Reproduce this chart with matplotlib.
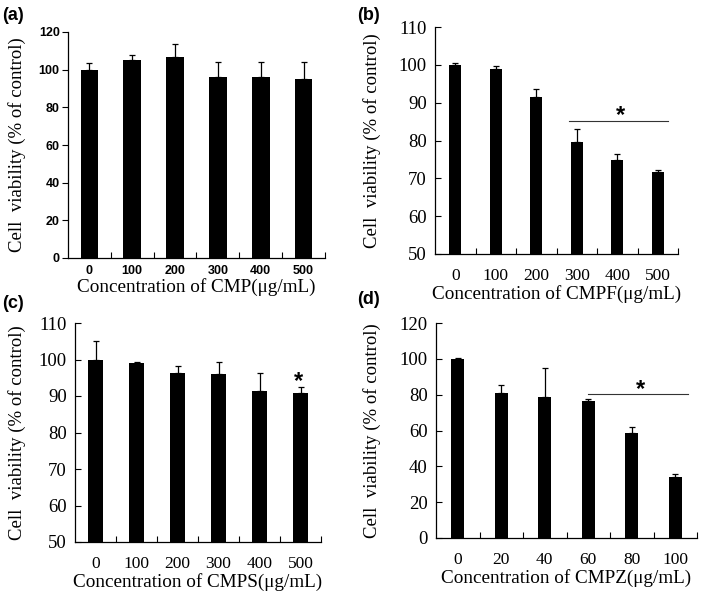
import matplotlib.pyplot as plt
import numpy as np

# panel (a) CMP
cmp_conc = ['0', '100', '200', '300', '400', '500']
cmp_val = [100, 105, 106.5, 96, 96.3, 95.2]
cmp_err = [3.5, 3, 7, 8, 8, 9]

# panel (b) CMPF
cmpf_conc = ['0', '100', '200', '300', '400', '500']
cmpf_val = [100, 99, 91.4, 79.6, 74.8, 71.6]
cmpf_err = [0.4, 0.8, 2.3, 3.5, 1.6, 0.6]

# panel (c) CMPS
cmps_conc = ['0', '100', '200', '300', '400', '500']
cmps_val = [100, 99, 96.2, 96, 91.5, 90.8]
cmps_err = [5, 0.2, 2, 3.3, 4.8, 1.8]

# panel (d) CMPZ
cmpz_conc = ['0', '20', '40', '60', '80', '100']
cmpz_val = [100, 81, 78.5, 76.6, 58.8, 34.2]
cmpz_err = [0.2, 4.3, 16.6, 1.2, 3.3, 1.4]

ylab = 'Cell  viability (% of control)'
serif = 'Liberation Serif'
sans = 'Liberation Sans'

W, H = 709, 594
fig = plt.figure(figsize=(W / 100, H / 100), dpi=100)


def box(l, r, t, b):
    return [l / W, 1 - b / H, (r - l) / W, (b - t) / H]


def panel(rect, conc, val, err, ylim, yticks, width, font, xsize, ysize, weight,
          ydir, xname, lpad, ylx):
    ax = fig.add_axes(rect)
    x = np.arange(len(conc))
    ax.bar(x, val, width=width, color='black', zorder=2)
    ax.errorbar(x, val, yerr=[np.zeros(len(err)), err], fmt='none',
                ecolor='black', elinewidth=0.9, capsize=2.5, capthick=0.9)
    ax.set_xlim(-0.5, 5.5)
    ax.set_ylim(*ylim)
    ax.set_yticks(yticks)
    ax.set_xticks(x)
    ax.set_xticklabels(conc, fontfamily=font, fontsize=xsize, fontweight=weight)
    ax.set_yticklabels([str(t) for t in yticks], fontfamily=font,
                       fontsize=ysize, fontweight=weight)
    ax.set_xticks(x + 0.5, minor=True)
    ax.tick_params(axis='x', which='major', length=0, pad=lpad)
    ax.tick_params(axis='x', which='minor', direction='in', length=4, width=0.8)
    ax.tick_params(axis='y', direction=ydir, length=4, width=0.8,
                   pad=2 if ydir == 'out' else 6)
    for s in ['top', 'right']:
        ax.spines[s].set_visible(False)
    for s in ['left', 'bottom']:
        ax.spines[s].set_linewidth(0.9)
    ax.set_xlabel(xname, fontfamily=serif, fontsize=13.8, labelpad=1)
    ax.set_ylabel(ylab, fontfamily=serif, fontsize=13.5)
    ax.yaxis.set_label_coords(ylx, 0.5)
    return ax


def star(ax, x, y):
    ax.text(x, y, '*', ha='center', va='baseline', fontsize=17,
            fontweight='bold', fontfamily=sans)


ax_a = panel(box(68, 325, 32, 258), cmp_conc, cmp_val, cmp_err, (0, 120),
             [0, 20, 40, 60, 80, 100, 120], 0.41, sans, 9, 9, 'bold', 'out',
             'Concentration of CMP(\u03bcg/mL)', 5, -0.163)

ax_b = panel(box(435, 678, 27, 254), cmpf_conc, cmpf_val, cmpf_err, (50, 110),
             [50, 60, 70, 80, 90, 100, 110], 0.30, serif, 12.5, 13.5, 'normal',
             'in', 'Concentration of CMPF(\u03bcg/mL)', 10, -0.222)
ax_b.plot([2.81, 5.25], [85.2, 85.2], color='#333333', lw=0.8)
star(ax_b, 4.07, 84.8)

ax_c = panel(box(75, 321, 323, 542), cmps_conc, cmps_val, cmps_err, (50, 110),
             [50, 60, 70, 80, 90, 100, 110], 0.35, serif, 12.5, 13.5, 'normal',
             'in', 'Concentration of CMPS(\u03bcg/mL)', 10, -0.199)
star(ax_c, 4.95, 92.3)

ax_d = panel(box(436, 697, 323, 538), cmpz_conc, cmpz_val, cmpz_err, (0, 120),
             [0, 20, 40, 60, 80, 100, 120], 0.31, serif, 12.5, 13.5, 'normal',
             'in', 'Concentration of CMPZ(\u03bcg/mL)', 10, -0.211)
ax_d.plot([3.0, 5.29], [80.3, 80.3], color='#333333', lw=0.8)
star(ax_d, 4.19, 79)

# panel letters
for lab, px, py in [('(a)', 2, 16), ('(b)', 357, 16), ('(c)', 2, 303), ('(d)', 357, 300)]:
    fig.text(px / W, 1 - py / H, lab, fontsize=13, fontweight='bold',
             fontfamily=sans, va='center', ha='left')

fig.savefig('out.png', dpi=100)
